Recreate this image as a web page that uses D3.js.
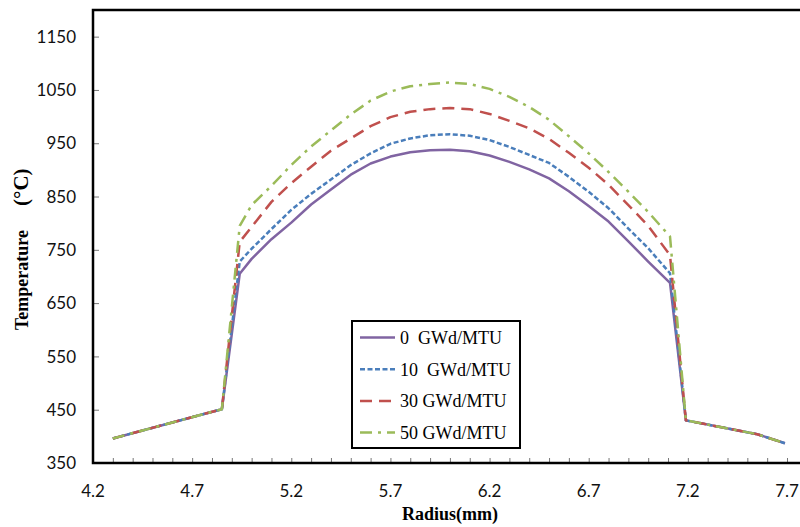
<!DOCTYPE html>
<html lang="en">
<head>
  <meta charset="UTF-8">
  <title>Temperature vs Radius</title>
  <script src="https://d3js.org/d3.v7.min.js"></script>
  <style>
    body { margin: 0; background: #fff; }
    svg { display: block; }
    .tick-label { font-family: Lato, "Open Sans", sans-serif; font-size: 17px; fill: #111; }
    .axis-title { font-family: "Liberation Serif", "Times New Roman", serif; font-weight: bold; font-size: 18px; fill: #000; }
    .legend-text { font-family: "Liberation Serif", "Times New Roman", serif; font-size: 18px; fill: #000; white-space: pre; }
  </style>
</head>
<body>
  <svg width="800" height="527"></svg>
  <script>
    // radius grid (mm), shared by all series
    const radius = [4.30, 4.45, 4.60, 4.75, 4.85, 4.94, 5.00, 5.10, 5.20, 5.30, 5.40, 5.50, 5.60, 5.70,
                    5.80, 5.90, 6.00, 6.10, 6.20, 6.30, 6.40, 6.50, 6.60, 6.70, 6.80, 6.90, 7.00, 7.11,
                    7.19, 7.37, 7.55, 7.69];

    const temp0  = [396, 411, 426, 441, 451, 705, 733, 770, 801, 835, 863, 891, 912, 925,
                    933, 937, 938, 935, 927, 915, 901, 884, 860, 832, 803, 766, 728, 688,
                    430, 417, 404, 387];
    const temp10 = [396, 411, 426, 441, 451, 728, 752, 789, 825, 855, 882, 909, 931, 949,
                    959, 965, 967, 964, 956, 943, 928, 913, 887, 859, 828, 790, 753, 706,
                    430, 417, 404, 387];
    const temp30 = [396, 411, 426, 441, 451, 765, 793, 840, 875, 906, 936, 959, 982, 999,
                    1009, 1014, 1016, 1014, 1005, 992, 978, 958, 932, 904, 872, 834, 795, 740,
                    430, 417, 404, 387];
    const temp50 = [396, 411, 426, 441, 451, 795, 834, 870, 909, 944, 974, 1004, 1030, 1047,
                    1057, 1061, 1064, 1061, 1052, 1037, 1018, 994, 963, 931, 896, 859, 821, 775,
                    430, 417, 404, 387];

    const seriesNames = ["0  GWd/MTU", "10  GWd/MTU", "30 GWd/MTU", "50 GWd/MTU"];
    const xTicks = [4.2, 4.7, 5.2, 5.7, 6.2, 6.7, 7.2, 7.7];
    const yTicks = [350, 450, 550, 650, 750, 850, 950, 1050, 1150];

    const series = [
      { name: seriesNames[0], values: temp0,  color: "#8064a2", dash: null },
      { name: seriesNames[1], values: temp10, color: "#4a7ebb", dash: "5,2.5" },
      { name: seriesNames[2], values: temp30, color: "#c0504d", dash: "12,7" },
      { name: seriesNames[3], values: temp50, color: "#9bbb59", dash: "12,6,3,6" }
    ];

    const svg = d3.select("svg");
    const plotLeft = 93, plotBottom = 463, plotTop = 10, plotRight = 800;

    const x = d3.scaleLinear().domain([4.2, 7.7]).range([plotLeft, 787]);
    const y = d3.scaleLinear().domain([350, 1200]).range([plotBottom, plotTop]);

    // minor ticks every 0.1 on x
    const minor = d3.range(0, 36).map(i => +(4.2 + i * 0.1).toFixed(1));
    svg.append("g")
      .attr("transform", `translate(0,${plotBottom})`)
      .call(d3.axisBottom(x).tickValues(minor).tickSizeInner(-5).tickSizeOuter(0).tickFormat(""))
      .call(g => g.select(".domain").remove())
      .call(g => g.selectAll(".tick line").attr("stroke", "#777"));

    svg.append("g")
      .attr("transform", `translate(${plotLeft},0)`)
      .call(d3.axisLeft(y).tickValues(yTicks).tickSizeInner(-6).tickSizeOuter(0).tickFormat(""))
      .call(g => g.select(".domain").remove())
      .call(g => g.selectAll(".tick line").attr("stroke", "#777"));

    // frame
    svg.append("path")
      .attr("d", `M${plotRight},${plotTop}H${plotLeft}V${plotBottom}H${plotRight}`)
      .attr("fill", "none")
      .attr("stroke", "#000")
      .attr("stroke-width", 2.5);

    // tick labels
    svg.selectAll("text.xl")
      .data(xTicks)
      .join("text")
      .attr("class", "tick-label xl")
      .attr("x", d => x(d))
      .attr("y", 497)
      .attr("text-anchor", "middle")
      .text(d => d.toFixed(1));

    svg.selectAll("text.yl")
      .data(yTicks)
      .join("text")
      .attr("class", "tick-label yl")
      .attr("x", 76)
      .attr("y", d => y(d))
      .attr("dy", "0.36em")
      .attr("text-anchor", "end")
      .text(d => d);

    // axis titles
    svg.append("text")
      .attr("class", "axis-title")
      .attr("x", 450)
      .attr("y", 520)
      .attr("text-anchor", "middle")
      .text("Radius(mm)");

    const yt = svg.append("text")
      .attr("class", "axis-title")
      .attr("transform", "translate(28,330) rotate(-90)")
      .attr("text-anchor", "start");
    yt.append("tspan").text("Temperature");
    yt.append("tspan").attr("dx", 24).attr("font-size", 21).text("(°C)");

    // lines
    const line = d3.line()
      .x((d, i) => x(radius[i]))
      .y(d => y(d));

    svg.selectAll("path.series")
      .data(series)
      .join("path")
      .attr("class", "series")
      .attr("d", d => line(d.values))
      .attr("fill", "none")
      .attr("stroke", d => d.color)
      .attr("stroke-width", 2.5)
      .attr("stroke-linejoin", "round")
      .attr("stroke-dasharray", d => d.dash);

    // legend
    const lg = svg.append("g");
    lg.append("rect")
      .attr("x", 352).attr("y", 321)
      .attr("width", 168).attr("height", 127)
      .attr("fill", "#fff")
      .attr("stroke", "#000")
      .attr("stroke-width", 2);

    const rows = lg.selectAll("g.row")
      .data(series)
      .join("g")
      .attr("class", "row")
      .attr("transform", (d, i) => `translate(0,${337.5 + i * 31.7})`);

    rows.append("line")
      .attr("x1", 360).attr("x2", 395)
      .attr("stroke", d => d.color)
      .attr("stroke-width", 2.5)
      .attr("stroke-dasharray", d => d.dash);

    rows.append("text")
      .attr("class", "legend-text")
      .attr("x", 400)
      .attr("dy", "0.35em")
      .text(d => d.name);
  </script>
</body>
</html>
